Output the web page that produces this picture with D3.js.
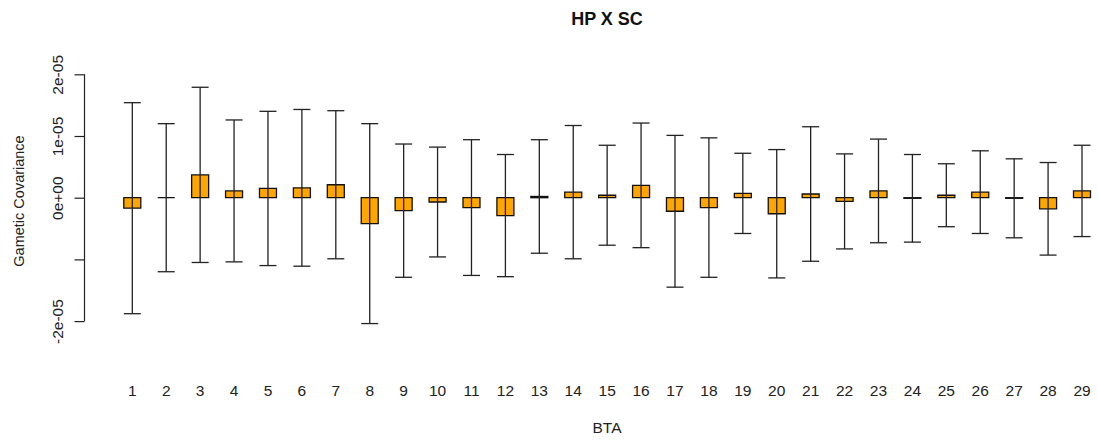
<!DOCTYPE html>
<html>
<head>
<meta charset="utf-8">
<script src="https://cdn.jsdelivr.net/npm/d3@7"></script>
<style>
  html, body { margin: 0; padding: 0; background: #fff; }
  svg { display: block; font-family: "Liberation Sans", Arial, Helvetica, sans-serif; }
</style>
</head>
<body>
<svg id="chart" width="1098" height="443"></svg>
<script>
// Chromosome (BTA) labels
const chromosomes = ["1","2","3","4","5","6","7","8","9","10","11","12","13","14","15",
                     "16","17","18","19","20","21","22","23","24","25","26","27","28","29"];

// Mean gametic covariance per chromosome
const means = [-1.7e-6, 0.0, 3.7e-6, 1.1e-6, 1.5e-6, 1.6e-6, 2.1e-6, -4.2e-6, -2.1e-6, -0.7e-6,
               -1.6e-6, -2.9e-6, 0.2e-6, 0.9e-6, 0.4e-6, 2.0e-6, -2.2e-6, -1.6e-6, 0.7e-6, -2.6e-6,
               0.6e-6, -0.6e-6, 1.1e-6, -0.1e-6, 0.4e-6, 0.9e-6, -0.1e-6, -1.8e-6, 1.1e-6];

// Half-width of the interval drawn around each mean
const errors = [17.1e-6, 12.0e-6, 14.2e-6, 11.5e-6, 12.5e-6, 12.7e-6, 12.0e-6, 16.2e-6, 10.8e-6, 8.9e-6,
                11.0e-6, 9.9e-6, 9.2e-6, 10.8e-6, 8.1e-6, 10.1e-6, 12.3e-6, 11.3e-6, 6.5e-6, 10.4e-6,
                10.9e-6, 7.7e-6, 8.4e-6, 7.1e-6, 5.1e-6, 6.7e-6, 6.4e-6, 7.5e-6, 7.4e-6];

// Y axis tick values and labels
const yTicks = [-2e-5, -1e-5, 0, 1e-5, 2e-5];
const yTickLabels = ["-2e-05", "", "0e+00", "1e-05", "2e-05"];

const svg = d3.select("#chart");

const x = d3.scaleLinear().domain([0, chromosomes.length - 1]).range([132.3, 1082]);
const y = d3.scaleLinear().domain([-2e-5, 2e-5]).range([321.1, 74.3]);

const boxW = 17;
const capW = 17;

// Bars from zero to the mean (drawn as paths so a zero-height bar still shows its outline)
svg.append("g").selectAll("path")
  .data(means)
  .join("path")
  .attr("d", (d, i) => {
    const x0 = x(i) - boxW / 2, x1 = x(i) + boxW / 2;
    const y0 = y(0), y1 = y(d);
    return `M${x0},${y0}H${x1}V${y1}H${x0}Z`;
  })
  .attr("fill", "#FFA500")
  .attr("stroke", "#111")
  .attr("stroke-width", 1.3);

// Interval whiskers with caps
const wg = svg.append("g").attr("stroke", "#222").attr("stroke-width", 1.3).attr("fill", "none");
means.forEach((m, i) => {
  const lo = y(m - errors[i]);
  const hi = y(m + errors[i]);
  const cx = x(i);
  wg.append("line").attr("x1", cx).attr("x2", cx).attr("y1", lo).attr("y2", hi);
  wg.append("line").attr("x1", cx - capW / 2).attr("x2", cx + capW / 2).attr("y1", hi).attr("y2", hi);
  wg.append("line").attr("x1", cx - capW / 2).attr("x2", cx + capW / 2).attr("y1", lo).attr("y2", lo);
});

// Y axis
const axisX = 84.5;
const tickLen = 10;
const yAxis = d3.axisLeft(y)
  .tickValues(yTicks)
  .tickFormat((d, i) => yTickLabels[i])
  .tickSize(tickLen)
  .tickPadding(0);
const ya = svg.append("g").attr("transform", `translate(${axisX},0)`).call(yAxis);
ya.select(".domain").attr("d", `M0,${y(-2e-5)}V${y(2e-5)}`).attr("stroke", "#222").attr("stroke-width", 1.2);
ya.selectAll(".tick line").attr("stroke", "#222").attr("stroke-width", 1.2);
ya.selectAll(".tick text")
  .attr("x", 0).attr("y", 0)
  .attr("transform", "translate(-27,0) rotate(-90)")
  .attr("text-anchor", "middle")
  .attr("dy", "0.35em")
  .attr("fill", "#222")
  .style("font-size", "15.5px")
  .style("font-family", "'Liberation Sans', Arial, sans-serif");

// X tick labels
svg.append("g").selectAll("text")
  .data(chromosomes)
  .join("text")
  .attr("x", (d, i) => x(i))
  .attr("y", 396)
  .attr("text-anchor", "middle")
  .attr("fill", "#222")
  .style("font-size", "15.5px")
  .text(d => d);

// Titles
svg.append("text")
  .attr("x", 607).attr("y", 25)
  .attr("text-anchor", "middle")
  .attr("font-weight", "bold")
  .attr("fill", "#111")
  .style("font-size", "18px")
  .text("HP X SC");

svg.append("text")
  .attr("x", 607).attr("y", 433)
  .attr("text-anchor", "middle")
  .attr("fill", "#222")
  .style("font-size", "15.5px")
  .text("BTA");

svg.append("text")
  .attr("transform", "translate(24,201) rotate(-90)")
  .attr("text-anchor", "middle")
  .attr("fill", "#222")
  .style("font-size", "14.5px")
  .text("Gametic Covariance");
</script>
</body>
</html>
